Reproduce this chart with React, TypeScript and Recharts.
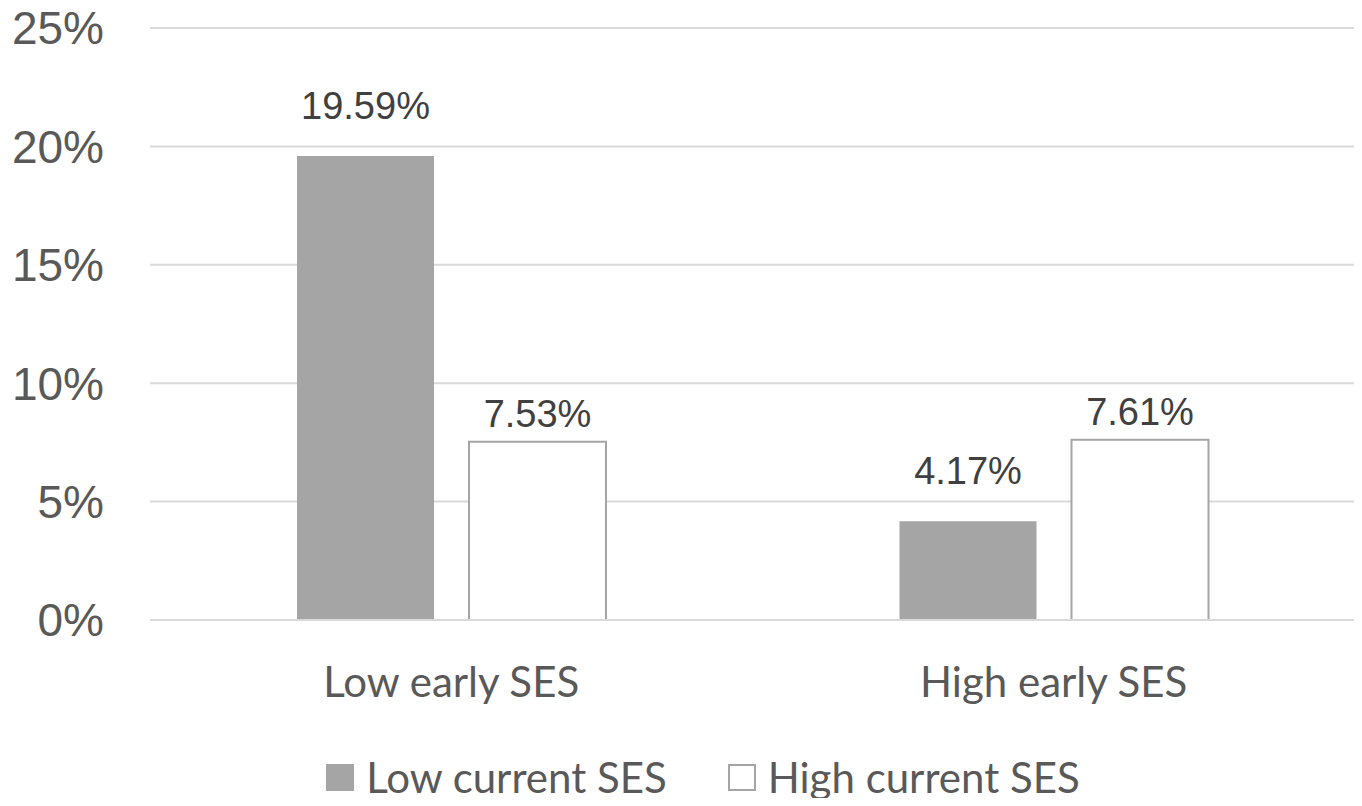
import { BarChart, Bar, XAxis, YAxis, CartesianGrid, Legend, LabelList } from 'recharts';

const categories = ['Low early SES', 'High early SES'];
const lowCurrent = [19.59, 4.17];
const highCurrent = [7.53, 7.61];
const yTicks = [0, 5, 10, 15, 20, 25];

const data = categories.map((name, i) => ({
  name,
  low: lowCurrent[i],
  high: highCurrent[i],
}));

const sans = '"Liberation Sans", Arial, sans-serif';
const body = 'Lato, "Open Sans", sans-serif';

function LegendBox() {
  const items = [
    { label: 'Low current SES', fill: '#a5a5a5', stroke: '#a5a5a5' },
    { label: 'High current SES', fill: '#ffffff', stroke: '#a5a5a5' },
  ];
  return (
    <div
      style={{
        display: 'flex',
        justifyContent: 'center',
        alignItems: 'center',
        height: 50,
        gap: 61,
        fontFamily: body,
        fontSize: 42,
        color: '#595959',
      }}
    >
      {items.map((it) => (
        <div key={it.label} style={{ display: 'flex', alignItems: 'center', gap: 12 }}>
          <span
            style={{
              display: 'inline-block',
              width: 28,
              height: 27,
              boxSizing: 'border-box',
              background: it.fill,
              border: `2px solid ${it.stroke}`,
            }}
          />
          <span>{it.label}</span>
        </div>
      ))}
    </div>
  );
}

export default function App() {
  return (
    <div style={{ margin: -8, width: 1362, height: 806, background: '#fff' }}>
      <BarChart
        width={1362}
        height={806}
        data={data}
        margin={{ top: 28, right: 7, left: 0, bottom: 46 }}
        barSize={137}
        barGap={35}
      >
        <CartesianGrid vertical={false} stroke="#d9d9d9" strokeWidth={2} />
        <XAxis
          dataKey="name"
          axisLine={{ stroke: '#d9d9d9', strokeWidth: 2 }}
          tickLine={false}
          tickSize={0}
          tickMargin={47}
          height={90}
          tick={{ fill: '#595959', fontSize: 42, fontFamily: body }}
        />
        <YAxis
          domain={[0, 25]}
          ticks={yTicks}
          tickFormatter={(v) => `${v}%`}
          axisLine={false}
          tickLine={false}
          tickSize={0}
          tickMargin={46}
          width={150}
          tick={{ fill: '#595959', fontSize: 46, fontFamily: sans }}
        />
        <Legend
          verticalAlign="bottom"
          content={() => <LegendBox />}
          wrapperStyle={{ left: 22, width: 1362, top: 752, bottom: 'auto' }}
        />
        <Bar dataKey="low" fill="#a5a5a5" isAnimationActive={false}>
          <LabelList
            dataKey="low"
            position="top"
            offset={37}
            formatter={(v: number) => `${v.toFixed(2)}%`}
            style={{ fill: '#404040', fontSize: 38, fontFamily: sans }}
          />
        </Bar>
        <Bar dataKey="high" fill="#ffffff" stroke="#a5a5a5" strokeWidth={2} isAnimationActive={false}>
          <LabelList
            dataKey="high"
            position="top"
            offset={15}
            formatter={(v: number) => `${v.toFixed(2)}%`}
            style={{ fill: '#404040', fontSize: 38, fontFamily: sans }}
          />
        </Bar>
      </BarChart>
    </div>
  );
}
